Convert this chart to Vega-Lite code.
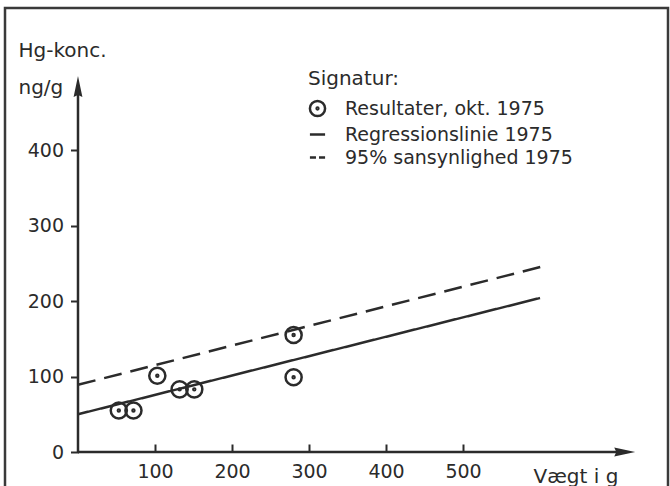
{
  "$schema": "https://vega.github.io/schema/vega-lite/v6.json",
  "width": 663,
  "height": 482,
  "autosize": "none",
  "padding": {"left": 5, "top": 8, "right": 2, "bottom": 0},
  "background": "white",
  "config": {
    "view": {"stroke": "#3a3a3a", "strokeWidth": 2.5},
    "font": "DejaVu Sans"
  },
  "datasets": {
    "punkter": [
      {"serie": "Resultater, okt. 1975", "vaegt": 53, "hg": 55},
      {"serie": "Resultater, okt. 1975", "vaegt": 72, "hg": 55},
      {"serie": "Resultater, okt. 1975", "vaegt": 103, "hg": 101},
      {"serie": "Resultater, okt. 1975", "vaegt": 132, "hg": 83},
      {"serie": "Resultater, okt. 1975", "vaegt": 151, "hg": 83},
      {"serie": "Resultater, okt. 1975", "vaegt": 280, "hg": 155},
      {"serie": "Resultater, okt. 1975", "vaegt": 280, "hg": 99}
    ],
    "linjer": [
      {"serie": "Regressionslinie 1975", "vaegt": 0, "hg": 50},
      {"serie": "Regressionslinie 1975", "vaegt": 600, "hg": 204},
      {"serie": "95% sansynlighed 1975", "vaegt": 0, "hg": 89},
      {"serie": "95% sansynlighed 1975", "vaegt": 604, "hg": 246}
    ],
    "akser": [
      {"akse": "y", "vaegt": 0, "vaegt2": 0, "hg": 0, "hg2": 485},
      {"akse": "x", "vaegt": 0, "vaegt2": 712, "hg": 0, "hg2": 0}
    ],
    "pile": [
      {"akse": "x", "vaegt": 710, "hg": 0},
      {"akse": "y", "vaegt": 0, "hg": 484}
    ]
  },
  "encoding": {
    "x": {
      "field": "vaegt",
      "type": "quantitative",
      "scale": {"domain": [-94.8, 766.2], "nice": false, "zero": false},
      "axis": {
        "orient": "bottom",
        "offset": -38,
        "domain": false,
        "grid": false,
        "values": [100, 200, 300, 400, 500],
        "ticks": true,
        "tickSize": -8,
        "tickWidth": 2,
        "tickColor": "#2b2b2b",
        "labelPadding": 18,
        "labelFontSize": 19,
        "labelColor": "#2b2b2b",
        "labelBaseline": "top",
        "title": "Vægt i g",
        "titleFontSize": 20,
        "titleFontWeight": "normal",
        "titleColor": "#2b2b2b",
        "titleAlign": "left",
        "titleBaseline": "top",
        "titleAnchor": null,
        "titleX": 528,
        "titleY": 14
      }
    },
    "y": {
      "field": "hg",
      "type": "quantitative",
      "scale": {"domain": [-50.3, 588.1], "nice": false, "zero": false},
      "axis": {
        "orient": "left",
        "offset": -73.5,
        "domain": false,
        "grid": false,
        "values": [0, 100, 200, 300, 400],
        "tickSize": 8,
        "tickWidth": 2,
        "tickColor": "#2b2b2b",
        "labelPadding": 7,
        "labelFontSize": 19,
        "labelColor": "#2b2b2b",
        "title": ["Hg-konc.", "\u2004ng/g"],
        "titleFontSize": 20,
        "titleFontWeight": "normal",
        "titleColor": "#2b2b2b",
        "titleAngle": 0,
        "titleAlign": "left",
        "titleBaseline": "top",
        "titleAnchor": null,
        "titleLineHeight": 37,
        "titleX": -60.5,
        "titleY": 32
      }
    }
  },
  "layer": [
    {
      "data": {"name": "akser"},
      "mark": {"type": "rule", "strokeWidth": 2.5, "color": "#2b2b2b"},
      "encoding": {
        "x2": {"field": "vaegt2"},
        "y2": {"field": "hg2"}
      }
    },
    {
      "data": {"name": "pile"},
      "transform": [{"filter": "datum.akse === 'x'"}],
      "mark": {"type": "point", "filled": true, "color": "#2b2b2b", "size": 440, "shape": "M-1,-0.42L1,0L-1,0.42L-0.8,0Z", "opacity": 1}
    },
    {
      "data": {"name": "pile"},
      "transform": [{"filter": "datum.akse === 'y'"}],
      "mark": {"type": "point", "filled": true, "color": "#2b2b2b", "size": 440, "shape": "M-0.42,1L0,-1L0.42,1L0,0.8Z", "opacity": 1}
    },
    {
      "data": {"name": "linjer"},
      "mark": {"type": "line", "strokeWidth": 2.5, "color": "#2b2b2b"},
      "encoding": {
        "strokeDash": {
          "field": "serie",
          "type": "nominal",
          "scale": {"domain": ["Regressionslinie 1975", "95% sansynlighed 1975"], "range": [[1, 0], [18, 9]]},
          "legend": null
        }
      }
    },
    {
      "data": {"name": "punkter"},
      "mark": {"type": "point", "filled": false, "color": "#2b2b2b", "strokeWidth": 2.5, "size": 260, "opacity": 1},
      "encoding": {
        "shape": {
          "field": "serie",
          "type": "nominal",
          "scale": {
            "domain": ["Resultater, okt. 1975", "Regressionslinie 1975", "95% sansynlighed 1975"],
            "range": [
              "M-1,0A1,1 0 1,0 1,0A1,1 0 1,0 -1,0Z M-0.12,0A0.12,0.12 0 1,0 0.12,0A0.12,0.12 0 1,0 -0.12,0Z",
              "M-1,0H1",
              "M-1,0H-0.2M0.2,0H1"
            ]
          },
          "legend": {
            "title": "Signatur:",
            "orient": "none",
            "legendX": 303,
            "legendY": 61,
            "padding": 0,
            "titleFontSize": 20,
            "titleFontWeight": "normal",
            "titleColor": "#2b2b2b",
            "titlePadding": 10,
            "labelFontSize": 19,
            "labelColor": "#2b2b2b",
            "labelOffset": 18,
            "labelLimit": 400,
            "rowPadding": 3,
            "symbolSize": 230,
            "symbolStrokeWidth": 2.5,
            "symbolStrokeColor": "#2b2b2b",
            "symbolFillColor": "transparent",
            "symbolOpacity": 1
          }
        }
      }
    }
  ]
}
